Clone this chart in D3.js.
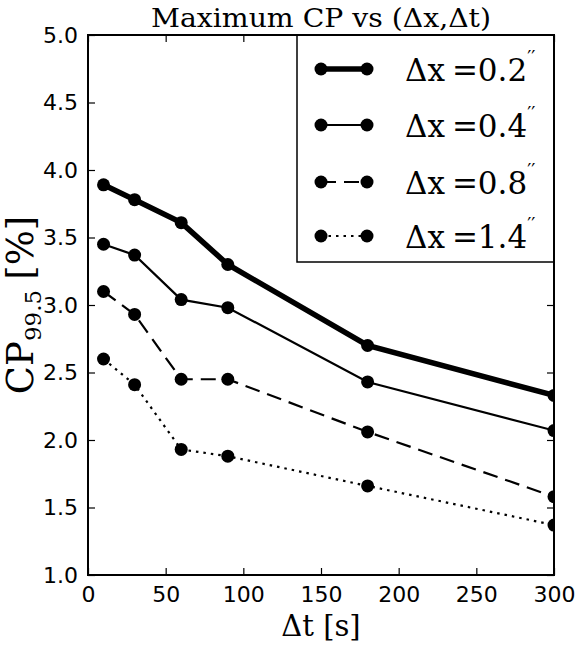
<!DOCTYPE html>
<html><head><meta charset="utf-8">
<script src="https://cdn.jsdelivr.net/npm/d3@7"></script>
<style>body{margin:0;background:#fff}svg{display:block}</style>
</head><body>
<script>
const dtValues = [10, 30, 60, 90, 180, 300];
const seriesNames = ["0.2", "0.4", "0.8", "1.4"];
const cp02 = [3.89, 3.78, 3.61, 3.30, 2.70, 2.33];
const cp04 = [3.45, 3.37, 3.04, 2.98, 2.43, 2.07];
const cp08 = [3.10, 2.93, 2.45, 2.45, 2.06, 1.58];
const cp14 = [2.60, 2.41, 1.93, 1.88, 1.66, 1.37];
const xTicks = [0, 50, 100, 150, 200, 250, 300];
const yTicks = [1.0, 1.5, 2.0, 2.5, 3.0, 3.5, 4.0, 4.5, 5.0];
const titleText = "Maximum CP vs (\u0394x,\u0394t)";

const styles = [
  {w: 5.5, dash: null},
  {w: 2.2, dash: null},
  {w: 2.2, dash: "15,8"},
  {w: 2.2, dash: "2.5,5"}
];
const seriesData = [cp02, cp04, cp08, cp14];

const W = 577, H = 645;
const L = 88, R = 554, T = 35, B = 575;
const svg = d3.select("body").append("svg").attr("width", W).attr("height", H);
const x = d3.scaleLinear().domain([0, 300]).range([L, R]);
const y = d3.scaleLinear().domain([1, 5]).range([B, T]);
const serif = "'DejaVu Serif', serif";
const sans = "'DejaVu Sans', sans-serif";

svg.append("clipPath").attr("id", "clip").append("rect")
  .attr("x", L).attr("y", T).attr("width", R - L).attr("height", B - T);

const plot = svg.append("g").attr("clip-path", "url(#clip)");
const line = d3.line().x((d, i) => x(dtValues[i])).y(d => y(d));
seriesData.forEach((s, k) => {
  plot.append("path").attr("d", line(s)).attr("fill", "none")
    .attr("stroke", "#000").attr("stroke-width", styles[k].w)
    .attr("stroke-dasharray", styles[k].dash);
  plot.selectAll(null).data(s).enter().append("circle")
    .attr("cx", (d, i) => x(dtValues[i])).attr("cy", d => y(d)).attr("r", 6.5).attr("fill", "#000");
});

// axes with inward ticks
const tl = 7;
const axB = svg.append("g").attr("transform", `translate(0,${B})`)
  .call(d3.axisBottom(x).tickValues(xTicks).tickSizeInner(-tl).tickSizeOuter(0).tickPadding(tl + 4).tickFormat(d3.format("d")));
const axT = svg.append("g").attr("transform", `translate(0,${T})`)
  .call(d3.axisTop(x).tickValues(xTicks).tickSizeInner(-tl).tickSizeOuter(0).tickFormat(""));
const axL = svg.append("g").attr("transform", `translate(${L},0)`)
  .call(d3.axisLeft(y).tickValues(yTicks).tickSizeInner(-tl).tickSizeOuter(0).tickPadding(tl + 3).tickFormat(d3.format(".1f")));
const axR = svg.append("g").attr("transform", `translate(${R},0)`)
  .call(d3.axisRight(y).tickValues(yTicks).tickSizeInner(-tl).tickSizeOuter(0).tickFormat(""));
[axB, axT, axL, axR].forEach(a => {
  a.select(".domain").remove();
  a.selectAll("line").attr("stroke", "#000").attr("stroke-width", 1.2);
  a.selectAll("text").attr("font-family", sans).attr("font-size", 22).attr("fill", "#000");
});
axB.selectAll("text").attr("dy", "0.71em");

// legend
const lg = svg.append("g");
lg.append("rect").attr("x", 297).attr("y", T).attr("width", R - 297).attr("height", 262 - T)
  .attr("fill", "#fff").attr("stroke", "#000").attr("stroke-width", 1.5);
const rowY = [69, 125, 182, 236];
seriesNames.forEach((n, k) => {
  const g = lg.append("g");
  g.append("line").attr("x1", 321).attr("x2", 367).attr("y1", rowY[k]).attr("y2", rowY[k])
    .attr("stroke", "#000").attr("stroke-width", styles[k].w).attr("stroke-dasharray", styles[k].dash);
  [321, 367].forEach(cx => g.append("circle").attr("cx", cx).attr("cy", rowY[k]).attr("r", 6.5).attr("fill", "#000"));
  const t = g.append("text").attr("x", 405).attr("y", rowY[k] + 12).attr("font-family", serif)
    .attr("font-size", 31).attr("fill", "#000");
  t.append("tspan").text("\u0394x");
  t.append("tspan").attr("dx", 7).text("=" + n);
  t.append("tspan").attr("dy", -17).attr("font-size", 18).text("\u2032\u2032");
});

// frame
svg.append("rect").attr("x", L).attr("y", T).attr("width", R - L).attr("height", B - T)
  .attr("fill", "none").attr("stroke", "#000").attr("stroke-width", 2);

// title
svg.append("text").attr("x", (L + R) / 2).attr("y", 27).attr("text-anchor", "middle")
  .attr("font-family", serif).attr("font-size", 26).attr("fill", "#000")
  .attr("textLength", 340).attr("lengthAdjust", "spacingAndGlyphs").text(titleText);

// x label
svg.append("text").attr("x", (L + R) / 2).attr("y", 636).attr("text-anchor", "middle")
  .attr("font-family", serif).attr("font-size", 29).attr("fill", "#000").text("\u0394t [s]");

// y label
const yl = svg.append("text").attr("transform", `translate(33,${(T + B) / 2}) rotate(-90)`)
  .attr("text-anchor", "middle").attr("font-family", serif).attr("font-size", 37).attr("fill", "#000");
yl.append("tspan").text("CP");
yl.append("tspan").attr("dy", 8).attr("font-size", 23).text("99.5");
yl.append("tspan").attr("dy", -8).attr("dx", 10).text("[%]");
</script>
</body></html>
